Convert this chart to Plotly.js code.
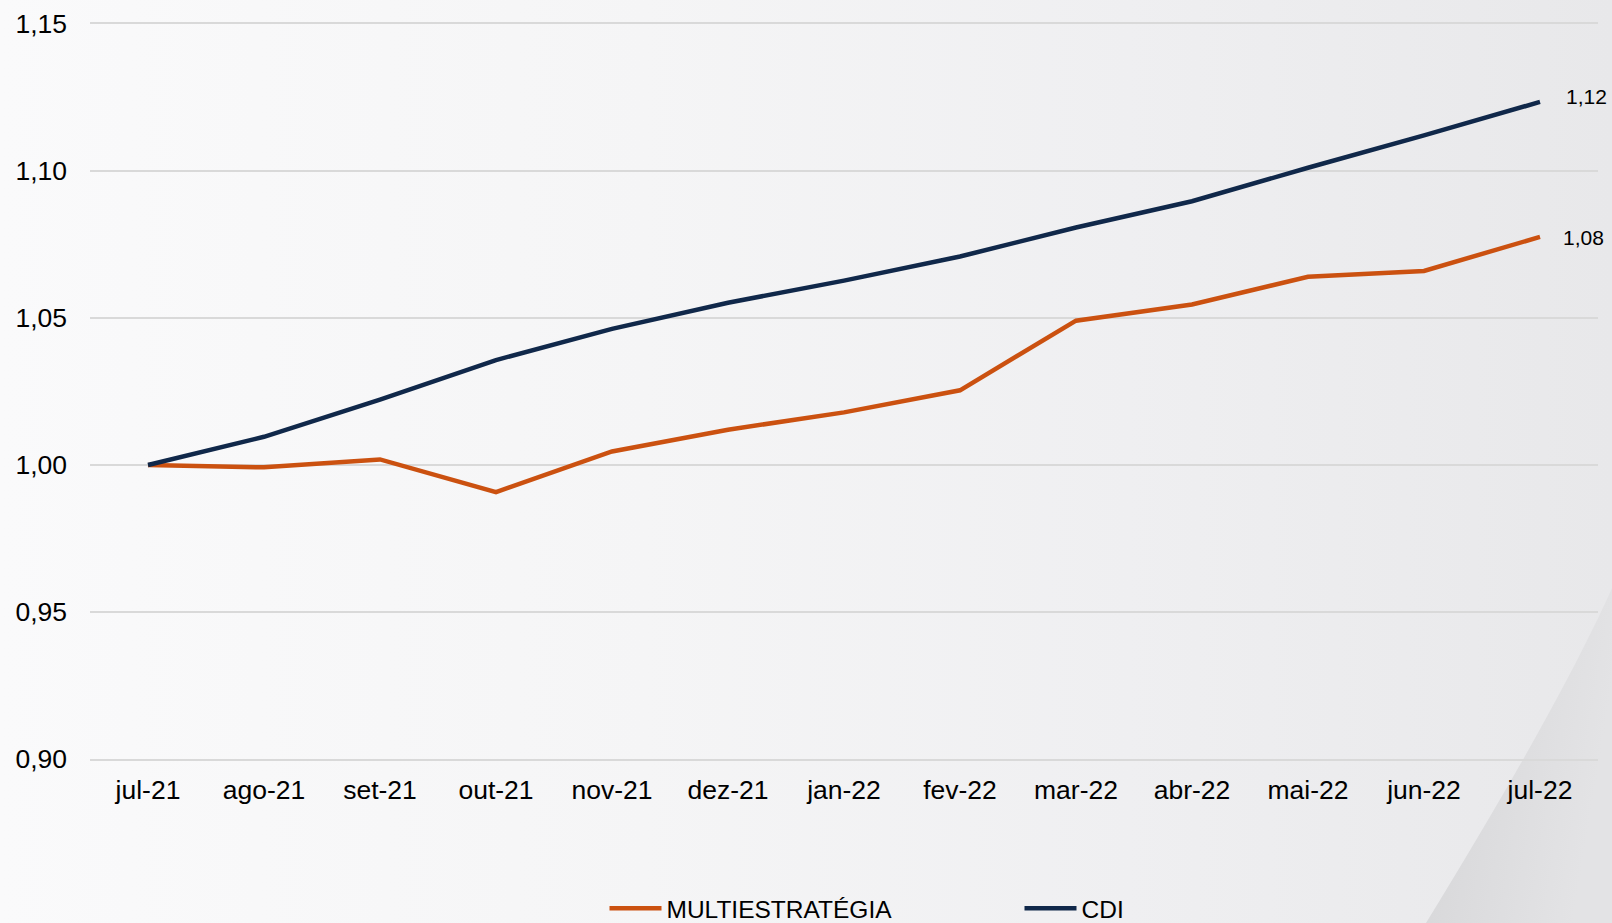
<!DOCTYPE html>
<html>
<head>
<meta charset="utf-8">
<script src="https://cdn.plot.ly/plotly-3.0.1.min.js"></script>
<style>
  html, body { margin: 0; padding: 0; width: 1612px; height: 923px; overflow: hidden; }
  #bg { position: absolute; left: 0; top: 0; width: 1612px; height: 923px;
        background: linear-gradient(90deg, #fafafb 0%, #f5f5f6 40%, #efeff1 70%, #e8e8ea 100%); }
  #bgsvg { position: absolute; left: 0; top: 0; }
  #chart { position: absolute; left: 0; top: 0; width: 1612px; height: 923px; }
</style>
</head>
<body>
<div id="bg"></div>
<svg id="bgsvg" width="1612" height="923">
  <defs>
    <linearGradient id="g1" x1="0" y1="0" x2="1" y2="0.3">
      <stop offset="0" stop-color="#d5d5d7"/>
      <stop offset="1" stop-color="#e3e3e5"/>
    </linearGradient>
  </defs>
  <path d="M1612,588 C1580,660 1520,770 1426,923 L1612,923 Z" fill="url(#g1)"/>
</svg>
<div id="chart"></div>
<script>
const months = ["jul-21","ago-21","set-21","out-21","nov-21","dez-21","jan-22","fev-22","mar-22","abr-22","mai-22","jun-22","jul-22"];
const multiestrategia = [1.000, 0.9992, 1.0019, 0.9908, 1.0046, 1.0120, 1.0179, 1.0254, 1.0491, 1.0546, 1.0640, 1.0660, 1.0776];
const cdi = [1.000, 1.0096, 1.0222, 1.0357, 1.0463, 1.0552, 1.0627, 1.0709, 1.0808, 1.0897, 1.1011, 1.1121, 1.1235];
const yTicks = [0.90, 0.95, 1.00, 1.05, 1.10, 1.15];

const orange = "#CB5110";
const navy = "#10284A";
const font = "Liberation Sans, Arial, sans-serif";

const traces = [
  { x: months, y: multiestrategia, type: "scatter", mode: "lines", name: "MULTIESTRATÉGIA",
    line: { color: orange, width: 4.5 } },
  { x: months, y: cdi, type: "scatter", mode: "lines", name: "CDI",
    line: { color: navy, width: 4.5 } }
];

function fmt(v) { return v.toFixed(2).replace(".", ","); }
const last = months.length - 1;

const layout = {
  width: 1612, height: 923,
  paper_bgcolor: "rgba(0,0,0,0)", plot_bgcolor: "rgba(0,0,0,0)",
  margin: { l: 90, r: 14, t: 24, b: 164, autoexpand: false },
  separators: ",.",
  font: { family: font, size: 24, color: "#000" },
  showlegend: true,
  legend: { orientation: "h", xref: "container", yref: "container", x: 0.375, xanchor: "left",
            y: 0.016, yanchor: "middle", font: { family: font, size: 24.5, color: "#000" },
            itemwidth: 52, entrywidth: 348, bgcolor: "rgba(0,0,0,0)", traceorder: "normal" },
  xaxis: { type: "category", range: [-0.5, 12.5], showgrid: false, zeroline: false,
           showline: true, mirror: true, linecolor: "#d9d9d9", linewidth: 2,
           ticks: "", ticklabelstandoff: 6, tickfont: { family: font, size: 26.5, color: "#000" } },
  yaxis: { range: [0.90, 1.15], tickvals: yTicks, tickformat: ".2f", showgrid: true,
           gridcolor: "#d9d9d9", gridwidth: 2, zeroline: false, showline: false, ticks: "",
           ticklabelstandoff: 22, tickfont: { family: font, size: 26.5, color: "#000" } },
  annotations: [
    { x: months[last], y: cdi[last], text: fmt(cdi[last]), showarrow: false, xanchor: "left",
      xshift: 24, yshift: 5, font: { family: font, size: 21, color: "#000" } },
    { x: months[last], y: multiestrategia[last], text: fmt(multiestrategia[last]), showarrow: false,
      xanchor: "left", xshift: 21, yshift: -1, font: { family: font, size: 21, color: "#000" } }
  ]
};

Plotly.newPlot("chart", traces, layout, { displayModeBar: false, staticPlot: true });
</script>
</body>
</html>
